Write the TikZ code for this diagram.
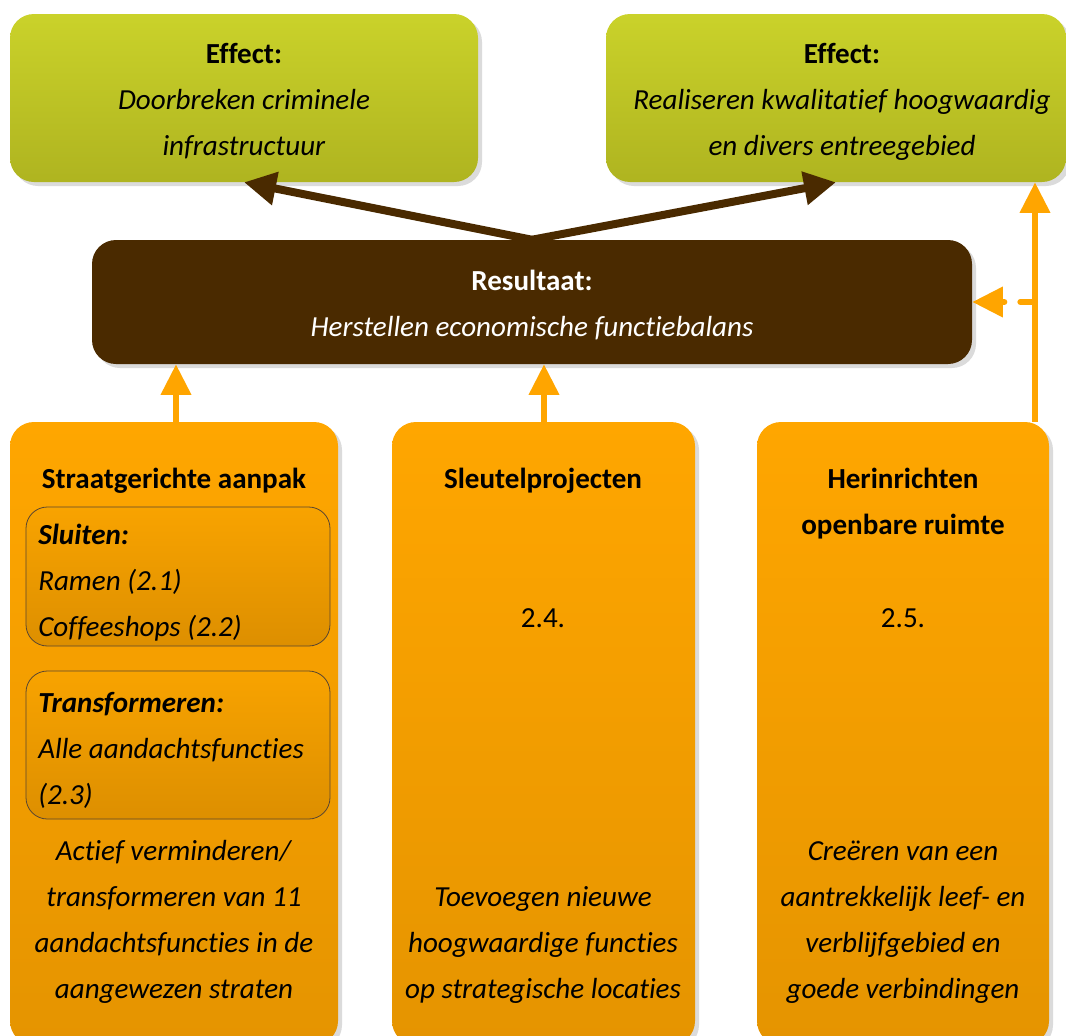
\documentclass[tikz,border=0pt]{standalone}
\usepackage{fontspec}
\setmainfont{Carlito}[Ligatures=NoCommon]
\usetikzlibrary{arrows.meta,shadows,fit}
\definecolor{gtop}{HTML}{CAD22A}
\definecolor{gbot}{HTML}{AFB420}
\definecolor{brn}{HTML}{4A2A00}
\definecolor{otop}{HTML}{FFA600}
\definecolor{obot}{HTML}{E59400}
\definecolor{itop}{HTML}{F8A300}
\definecolor{ibot}{HTML}{DD8F00}
\definecolor{iline}{HTML}{5A4630}
\definecolor{oarr}{HTML}{FFA500}
\tikzset{
  shad/.style={drop shadow={shadow xshift=3pt, shadow yshift=-3pt, fill=black!14, opacity=1}},
  greenbox/.style={rounded corners=18pt, top color=gtop, bottom color=gbot, inner sep=0pt, shad},
  brownbox/.style={rounded corners=18pt, fill=brn, inner sep=0pt, shad},
  orangebox/.style={rounded corners=18pt, top color=otop, bottom color=obot, inner sep=0pt, shad},
  innerbox/.style={rounded corners=16pt, top color=itop, bottom color=ibot, draw=iline, line width=0.6pt, inner sep=0pt},
  txt/.style={font=\fontsize{21.8}{26}\selectfont, inner sep=0pt, anchor=base, text=black},
  ltxt/.style={txt, anchor=base west},
  wtxt/.style={txt, text=white},
  brarrow/.style={draw=brn, line width=6pt, -{Triangle[length=24pt,width=24pt]}},
  orarrow/.style={draw=oarr, line width=4.5pt, line cap=round, -{Triangle[length=23pt,width=22pt]}},
}
\begin{document}
\begin{tikzpicture}[x=0.75pt,y=-0.75pt]
\useasboundingbox (0,0) rectangle (1066,1035);
% boxes
\node[greenbox, fit={(10,14) (478,182)}] (g1) {};
\node[greenbox, fit={(606,14) (1066,182)}] (g2) {};
\node[brownbox, fit={(92,240) (972,364)}] (br) {};
\node[orangebox, fit={(10,422) (338,1045)}] (b1) {};
\node[orangebox, fit={(392,422) (695,1045)}] (b2) {};
\node[orangebox, fit={(757,422) (1049,1045)}] (b3) {};
\node[innerbox, fit={(26,507) (330,646)}] (i1) {};
\node[innerbox, fit={(26,671) (330,819)}] (i2) {};
% top texts
\node[txt] (t1a) at (244,63) {\textbf{Effect:}};
\node[txt] (t1b) at (244,109) {\textit{Doorbreken criminele}};
\node[txt] (t1c) at (244,155) {\textit{infrastructuur}};
\node[txt] (t2a) at (842,63) {\textbf{Effect:}};
\node[txt] (t2b) at (842,109) {\textit{Realiseren kwalitatief hoogwaardig}};
\node[txt] (t2c) at (842,155) {\textit{en divers entreegebied}};
% result
\node[wtxt] (r1) at (532,290) {\textbf{Resultaat:}};
\node[wtxt] (r2) at (532,336) {\textit{Herstellen economische functiebalans}};
% left column
\node[txt] (l0) at (174,488) {\textbf{Straatgerichte aanpak}};
\node[ltxt] (l1) at (38,544) {\textbf{\textit{Sluiten:}}};
\node[ltxt] (l2) at (38,590) {\textit{Ramen (2.1)}};
\node[ltxt] (l3) at (38,636) {\textit{Coffeeshops (2.2)}};
\node[ltxt] (l4) at (38,712) {\textbf{\textit{Transformeren:}}};
\node[ltxt] (l5) at (38,758) {\textit{Alle aandachtsfuncties}};
\node[ltxt] (l6) at (38,804) {\textit{(2.3)}};
\node[txt] (l7) at (174,860) {\textit{Actief verminderen/}};
\node[txt] (l8) at (174,906) {\textit{transformeren van 11}};
\node[txt] (l9) at (174,952) {\textit{aandachtsfuncties in de}};
\node[txt] (l10) at (174,998) {\textit{aangewezen straten}};
% middle column
\node[txt] (m0) at (543,488) {\textbf{Sleutelprojecten}};
\node[txt] (m1) at (543,627) {2.4.};
\node[txt] (m2) at (543,906) {\textit{Toevoegen nieuwe}};
\node[txt] (m3) at (543,952) {\textit{hoogwaardige functies}};
\node[txt] (m4) at (543,998) {\textit{op strategische locaties}};
% right column
\node[txt] (q0) at (903,488) {\textbf{Herinrichten}};
\node[txt] (q1) at (903,534) {\textbf{openbare ruimte}};
\node[txt] (q2) at (903,627) {2.5.};
\node[txt] (q3) at (903,860) {\textit{Creëren van een}};
\node[txt] (q4) at (903,906) {\textit{aantrekkelijk leef- en}};
\node[txt] (q5) at (903,952) {\textit{verblijfgebied en}};
\node[txt] (q6) at (903,998) {\textit{goede verbindingen}};
% connectors
\draw[brarrow] (br.north) -- (g1.south);
\draw[brarrow] (br.north) -- (g2.south);
\coordinate (ca) at (176,0);
\coordinate (cb) at (544,0);
\draw[orarrow] (b1.north -| ca) -- (br.south -| ca);
\draw[orarrow] (b2.north -| cb) -- (br.south -| cb);
\coordinate (rj) at (1035,302);
\draw[orarrow, line cap=butt] (b3.north -| rj) -- (g2.south -| rj);
\draw[orarrow, dash pattern=on 11pt off 12pt] (rj) -- (br.east);
\end{tikzpicture}
\end{document}
